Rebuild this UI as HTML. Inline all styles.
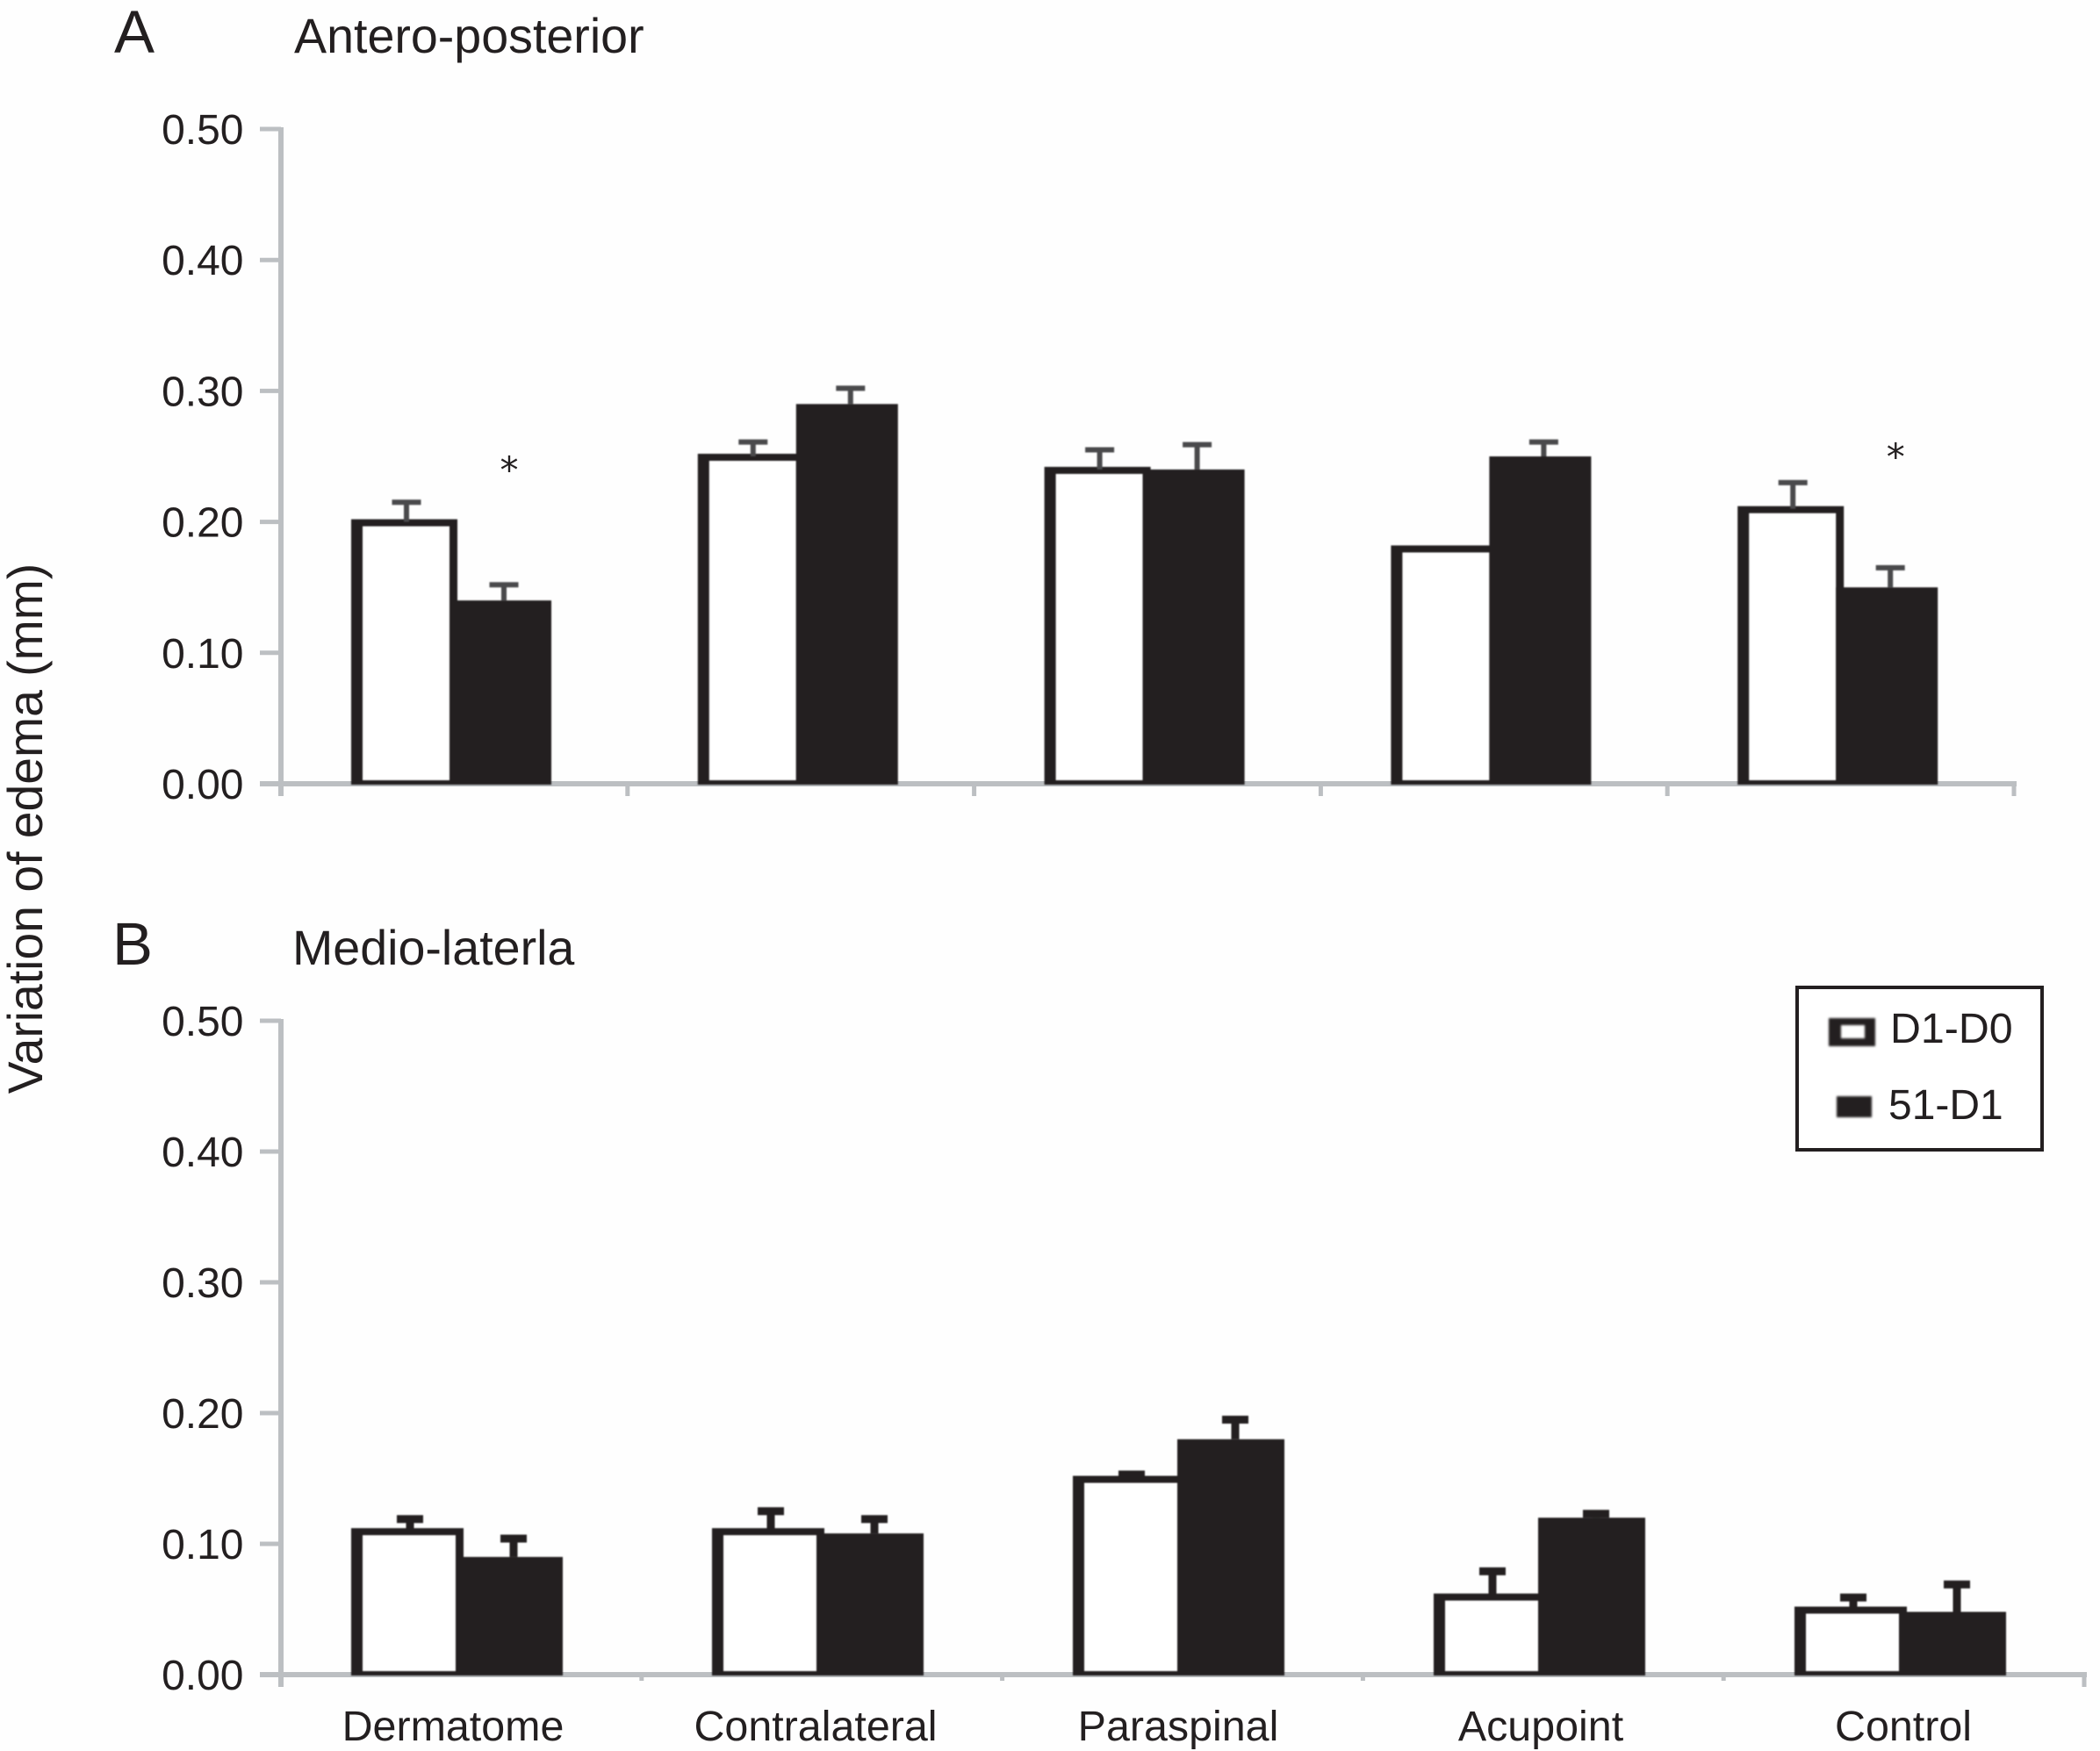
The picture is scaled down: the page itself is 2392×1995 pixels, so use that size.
<!DOCTYPE html>
<html lang="en">
<head>
<meta charset="utf-8">
<title>Variation of edema</title>
<style>
  html, body { margin: 0; padding: 0; background: #fefefe; }
  svg { display: block; }
  text { font-family: "Liberation Sans", Arial, sans-serif; fill: #231f20; }
</style>
</head>
<body>
<svg id="chart" xmlns="http://www.w3.org/2000/svg" width="2392" height="1995" viewBox="0 0 2392 1995">
  <rect x="0" y="0" width="2392" height="1995" fill="#fefefe"/>
  <text transform="translate(48,944) rotate(-90)" text-anchor="middle" font-size="55.3">Variation of edema (mm)</text>
  <text x="130" y="60" font-size="69">A</text>
  <text x="335" y="60" font-size="55.6">Antero-posterior</text>
  <text x="128" y="1099" font-size="69">B</text>
  <text x="333" y="1099" font-size="55.6">Medio-laterla</text>
  <g id="panel-a"></g>
  <g id="panel-b"></g>
  <g>
    <rect x="2047" y="1125" width="279" height="185" fill="#fff" stroke="#231f20" stroke-width="4"/>
    <g style="filter:blur(1.2px)">
      <rect x="2083" y="1160" width="53" height="32" fill="#231f20"/>
      <rect x="2097" y="1168" width="27" height="15" fill="#fff"/>
    </g>
    <text x="2153" y="1188" font-size="48.3">D1-D0</text>
    <rect x="2092" y="1249" width="40" height="24" fill="#231f20" style="filter:blur(1.2px)"/>
    <text x="2151" y="1275" font-size="48">51-D1</text>
  </g>
</svg>
<script>
// ---------- data ----------
const categories = ["Dermatome", "Contralateral", "Paraspinal", "Acupoint", "Control"];
const yTickValues = [0, 0.1, 0.2, 0.3, 0.4, 0.5];
const yTickLabels = ["0.00", "0.10", "0.20", "0.30", "0.40", "0.50"];

const apD1D0 = [0.20, 0.25, 0.24, 0.18, 0.21];
const apD1D0Err = [0.015, 0.011, 0.015, 0, 0.020];
const ap51D1 = [0.14, 0.29, 0.24, 0.25, 0.15];
const ap51D1Err = [0.012, 0.012, 0.019, 0.011, 0.015];
const apSignificant = [true, false, false, false, true];

const mlD1D0 = [0.11, 0.11, 0.15, 0.06, 0.05];
const mlD1D0Err = [0.009, 0.015, 0.003, 0.019, 0.009];
const ml51D1 = [0.09, 0.108, 0.18, 0.12, 0.048];
const ml51D1Err = [0.014, 0.011, 0.015, 0.003, 0.021];
const mlSignificant = [false, false, false, false, false];

// ---------- rendering ----------
const NS = "http://www.w3.org/2000/svg";
const INK = "#231f20";
const AXIS = "#bcbfc2";

function mk(parent, tag, attrs, text) {
  const el = document.createElementNS(NS, tag);
  for (const k in attrs) el.setAttribute(k, attrs[k]);
  if (text !== undefined) el.textContent = text;
  parent.appendChild(el);
  return el;
}

function drawPanel(cfg) {
  const root = document.getElementById(cfg.id);
  const y = v => cfg.zeroY - v * cfg.pxPerUnit;
  const groupX = i => cfg.groupStart + i * cfg.groupStep;
  const tickX = i => cfg.axisX + i * cfg.tickStep;
  const topY = y(0.5);

  // y axis line
  const yAxis = mk(root, "line", { x1: cfg.axisX, x2: cfg.axisX, y1: topY - 2, y2: cfg.zeroY + cfg.endTick, stroke: AXIS, "stroke-width": 6 });
  
  

  // x axis line
  const xAxis = mk(root, "line", { x1: cfg.axisX - 24, x2: tickX(categories.length) + 3, y1: cfg.zeroY, y2: cfg.zeroY, stroke: AXIS, "stroke-width": 6 });
  
  

  // y ticks + labels
  yTickValues.forEach((v, i) => {
    const t = mk(root, "line", { x1: cfg.axisX - 24, x2: cfg.axisX, y1: y(v), y2: y(v), stroke: AXIS, "stroke-width": 5 });
    
    
    const l = mk(root, "text", { x: 277.5, y: y(v) + 17, "text-anchor": "end", "font-size": 48 }, yTickLabels[i]);
    
    
  });

  // x ticks
  for (let i = 1; i <= categories.length; i++) {
    const len = i === categories.length ? cfg.endTick : cfg.innerTick;
    const t = mk(root, "line", { x1: tickX(i), x2: tickX(i), y1: cfg.zeroY, y2: cfg.zeroY + len, stroke: AXIS, "stroke-width": 5 });
    
    
  }

  // bars
  const marks = mk(root, "g", { style: "filter:blur(0.8px)" });
  
  

  categories.forEach((cat, i) => {
    const left = groupX(i);

    // D1-D0 (outlined white bar)
    const wTop = y(cfg.d1d0[i]) - 3;
    const outer = mk(marks, "rect", { x: left, y: wTop, width: cfg.whiteW + 9, height: cfg.zeroY + 1 - wTop, fill: INK });
    
    
    const inner = mk(marks, "rect", { x: left + 13, y: wTop + 8, width: cfg.whiteW - 13, height: cfg.zeroY - 4 - wTop - 8, fill: "#ffffff" });
    
    

    // 51-D1 (solid bar)
    const bTop = y(cfg.s51d1[i]);
    const solid = mk(marks, "rect", { x: left + cfg.whiteW, y: bTop, width: cfg.blackW, height: cfg.zeroY + 1 - bTop, fill: INK });
    
    

    // error bars
    const series = [
      { v: cfg.d1d0[i], e: cfg.d1d0Err[i], cx: left + cfg.errWhite },
      { v: cfg.s51d1[i], e: cfg.s51d1Err[i], cx: left + cfg.errBlack }
    ];
    series.forEach(s => {
      if (s.e <= 0) return;
      const capY = y(s.v + s.e);
      const stem = mk(marks, "line", { x1: s.cx, x2: s.cx, y1: capY, y2: y(s.v), stroke: cfg.errColor, "stroke-width": cfg.stemW });
      
      
      const cap = mk(marks, "line", { x1: s.cx - cfg.capW / 2, x2: s.cx + cfg.capW / 2, y1: capY, y2: capY, stroke: cfg.errColor, "stroke-width": cfg.capH });
      
      
    });

    // significance marker
    if (cfg.sig[i]) {
      const star = mk(root, "text", { x: left + 180, y: bTop - 134, "text-anchor": "middle", "font-size": 42, style: "font-family:'DejaVu Sans',sans-serif" }, "*");
      
      
    }

    // category label
    if (cfg.showLabels) {
      const lab = mk(root, "text", { x: cfg.labelStart + i * cfg.labelStep, y: 1983, "text-anchor": "middle", "font-size": 48.4 }, cat);
      
      
    }
  });
}

drawPanel({
  id: "panel-a", zeroY: 893, pxPerUnit: 1492, axisX: 320, tickStep: 394.8,
  groupStart: 400, groupStep: 394.8, whiteW: 112, blackW: 116, errWhite: 63, errBlack: 174,
  errColor: "#4a4a4c", stemW: 6, capW: 33, capH: 6, endTick: 14, innerTick: 14,
  d1d0: apD1D0, d1d0Err: apD1D0Err, s51d1: ap51D1, s51d1Err: ap51D1Err, sig: apSignificant,
  showLabels: false, labelStart: 0, labelStep: 0
});

drawPanel({
  id: "panel-b", zeroY: 1908, pxPerUnit: 1490, axisX: 320, tickStep: 410.8,
  groupStart: 400, groupStep: 411, whiteW: 119, blackW: 122, errWhite: 67, errBlack: 185,
  errColor: INK, stemW: 9, capW: 30, capH: 9, endTick: 14, innerTick: 7,
  d1d0: mlD1D0, d1d0Err: mlD1D0Err, s51d1: ml51D1, s51d1Err: ml51D1Err, sig: mlSignificant,
  showLabels: true, labelStart: 516, labelStep: 413
});
</script>
</body>
</html>
